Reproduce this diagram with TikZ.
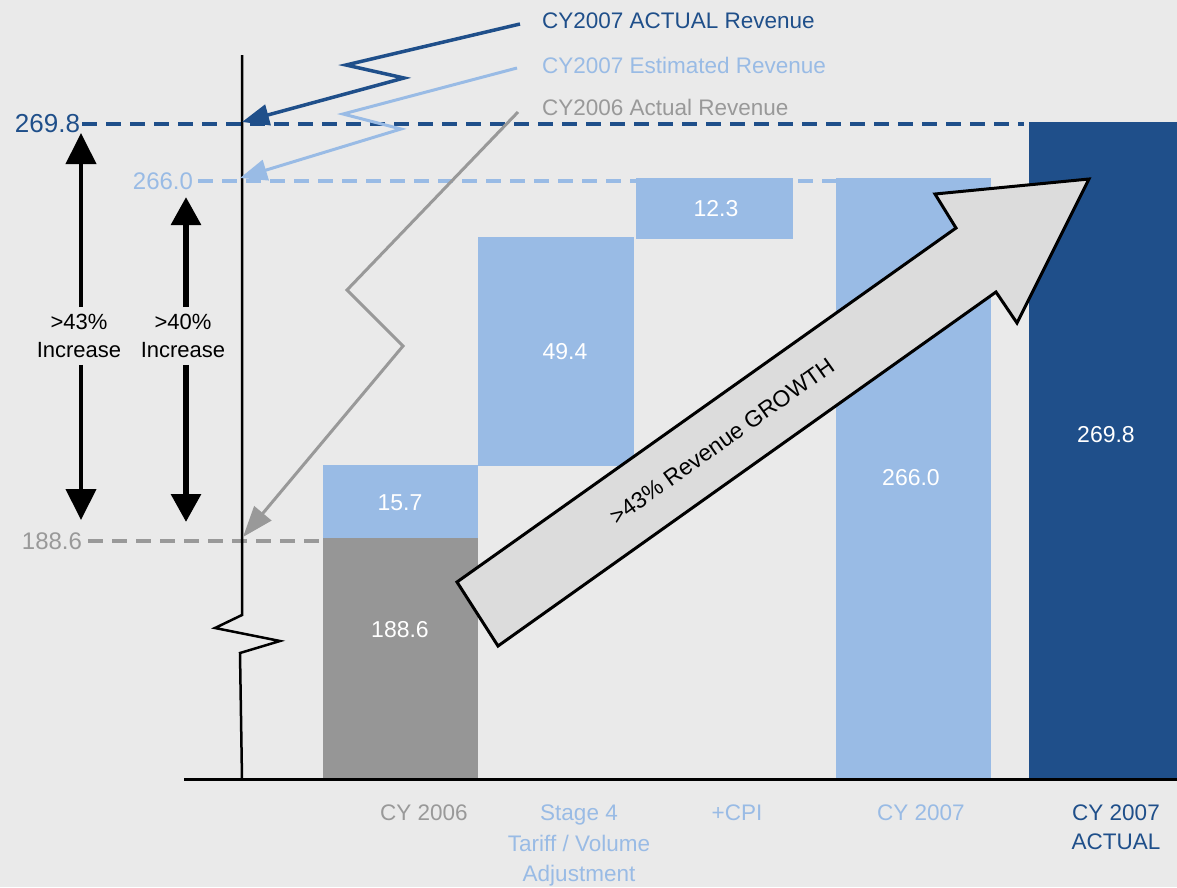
\documentclass[tikz,border=0pt]{standalone}
\usepackage{fontspec}
\setmainfont{Liberation Sans}
\usetikzlibrary{arrows.meta}
\definecolor{bg}{HTML}{EAEAEA}
\definecolor{dkblue}{HTML}{1F4F8A}
\definecolor{ltblue}{HTML}{99BBE5}
\definecolor{barg}{HTML}{969696}
\definecolor{txtg}{HTML}{999999}
\definecolor{arrfill}{HTML}{DCDCDC}
\begin{document}
\begin{tikzpicture}[x=1pt,y=-1pt,
  every node/.style={inner sep=0pt, outer sep=0pt},
  bar/.style={anchor=north west, inner sep=0pt, outer sep=0pt, draw=none},
  val/.style={text=white, font=\fontsize{23}{27}\selectfont},
  axlab/.style={anchor=north, align=center, font=\fontsize{22.5}{30.5}\selectfont},
  legtxt/.style={anchor=west, font=\fontsize{22.5}{27}\selectfont},
  dashln/.style={line width=4pt, dash pattern=on 15pt off 9pt},
  legline/.style={line width=3pt, line join=miter, -{Triangle[length=27pt,width=21pt]}},
  incarrow/.style={-{Triangle[length=31pt,width=30pt]}},
  inclab/.style={align=center, font=\fontsize{22}{28}\selectfont, inner xsep=0pt, inner ysep=7pt},
]
\fill[bg] (0,0) rectangle (1177,887);
\useasboundingbox (0,0) rectangle (1177,887);

% value labels on the left
\node[anchor=east, inner xsep=2pt, text=dkblue, font=\fontsize{26}{30}\selectfont] (v1) at (82,124) {269.8};
\node[anchor=east, inner xsep=2pt, text=ltblue, font=\fontsize{24}{28}\selectfont] (v2) at (195,181) {266.0};
\node[anchor=east, inner xsep=2pt, text=txtg, font=\fontsize{24}{28}\selectfont] (v3) at (84,541) {188.6};

% baseline
\draw[line width=3pt] (184,779) coordinate (base0) -- (1177,779) coordinate (base1);

% bars
\node[bar, fill=barg,   minimum width=155pt, minimum height=240pt] (b1) at (323,538) {};
\node[bar, fill=ltblue, minimum width=155pt, minimum height=73pt]  (b2) at (323,465) {};
\node[bar, fill=ltblue, minimum width=156pt, minimum height=229pt] (b3) at (478,237) {};
\node[bar, fill=ltblue, minimum width=157pt, minimum height=61pt]  (b4) at (636,178) {};
\node[bar, fill=ltblue, minimum width=155pt, minimum height=600pt] (b5) at (836,178) {};
\node[bar, fill=dkblue, minimum width=148pt, minimum height=656pt] (b6) at (1029,122) {};

% dashed reference lines
\draw[dashln, dkblue] (v1.east) -- ([xshift=-5pt]v1.east -| b6.west);
\draw[dashln, ltblue] ([xshift=3pt]v2.east) -- (v2.east -| b5.west);
\draw[dashln, txtg] ([xshift=4pt]v3.east) -- (v3.east -| b1.west);

% redraw 12.3 bar over the dashes
\node[bar, fill=ltblue, minimum width=157pt, minimum height=61pt] at (636,178) {};

% bar values
\node[val] (n1) at (400,630) {188.6};
\node[val] (n2) at (400,503) {15.7};
\node[val] (n3) at (565,352) {49.4};
\node[val] (n4) at (716,209) {12.3};
\node[val] (n5) at (911,478) {266.0};
\node[val] (n6) at (1106,435) {269.8};

% broken vertical axis
\draw[line width=2.5pt, line join=miter] (242,55) -- (242,615) -- (215,628) -- (280,641) -- (240,653) -- (242,779);

% axis targets
\coordinate (t1) at (242,122);
\coordinate (t2) at (240,178);
\coordinate (t3) at (243,537);

% legend
\node[legtxt, text=dkblue] (lg1) at (542,21) {CY2007 ACTUAL Revenue};
\node[legtxt, text=ltblue] (lg2) at (542,65) {CY2007 Estimated Revenue};
\node[legtxt, text=txtg]   (lg3) at (542,107) {CY2006 Actual Revenue};

\draw[legline, dkblue, line width=3.5pt] ([xshift=-22pt,yshift=-3pt]lg1.west) -- (346,65) -- (404,78) -- (t1);
\draw[legline, ltblue] ([xshift=-25pt,yshift=-3pt]lg2.west) -- (343,114) -- (401,129) -- (t2);
\draw[legline, txtg, -{Triangle[length=31pt,width=22pt]}] ([xshift=-24pt,yshift=-5pt]lg3.west) -- (347,290) -- (403,346) -- (t3);

% increase arrows
\node[inclab] (i1) at (79,336) {>43\%\\Increase};
\node[inclab] (i2) at (183,336) {>40\%\\Increase};
\coordinate (i1top) at (81,133);
\coordinate (i1bot) at (81,520);
\coordinate (i2top) at (186,197);
\coordinate (i2bot) at (186,522);
\draw[incarrow, line width=4pt] (i1top |- i1.north) -- (i1top);
\draw[incarrow, line width=4pt] (i1bot |- i1.south) -- (i1bot);
\draw[incarrow, line width=6pt, -{Triangle[length=28pt,width=29pt]}] (i2top |- i2.north) -- (i2top);
\draw[incarrow, line width=6pt, -{Triangle[length=28pt,width=29pt]}] (i2bot |- i2.south) -- (i2bot);

% big growth arrow
\draw[line width=3pt, line join=miter, fill=arrfill] (457,582) -- (956,228) -- (935,194) -- (1089,179) -- (1017,323) -- (996,292) -- (498,646) -- cycle;
\node[rotate=35.4, font=\fontsize{23}{27}\selectfont] (growth) at (722,441) {>43\% Revenue GROWTH};

% category labels
\node[axlab, text=txtg]   (c1) at (424,805) {CY 2006};
\node[axlab, text=ltblue] (c2) at (579,805) {Stage 4\\Tariff / Volume\\Adjustment};
\node[axlab, text=ltblue] (c3) at (737,805) {+CPI};
\node[axlab, text=ltblue] (c4) at (921,805) {CY 2007};
\node[axlab, text=dkblue, font=\fontsize{22.5}{29}\selectfont] (c5) at (1116,805) {CY 2007\\ACTUAL};
\end{tikzpicture}
\end{document}
